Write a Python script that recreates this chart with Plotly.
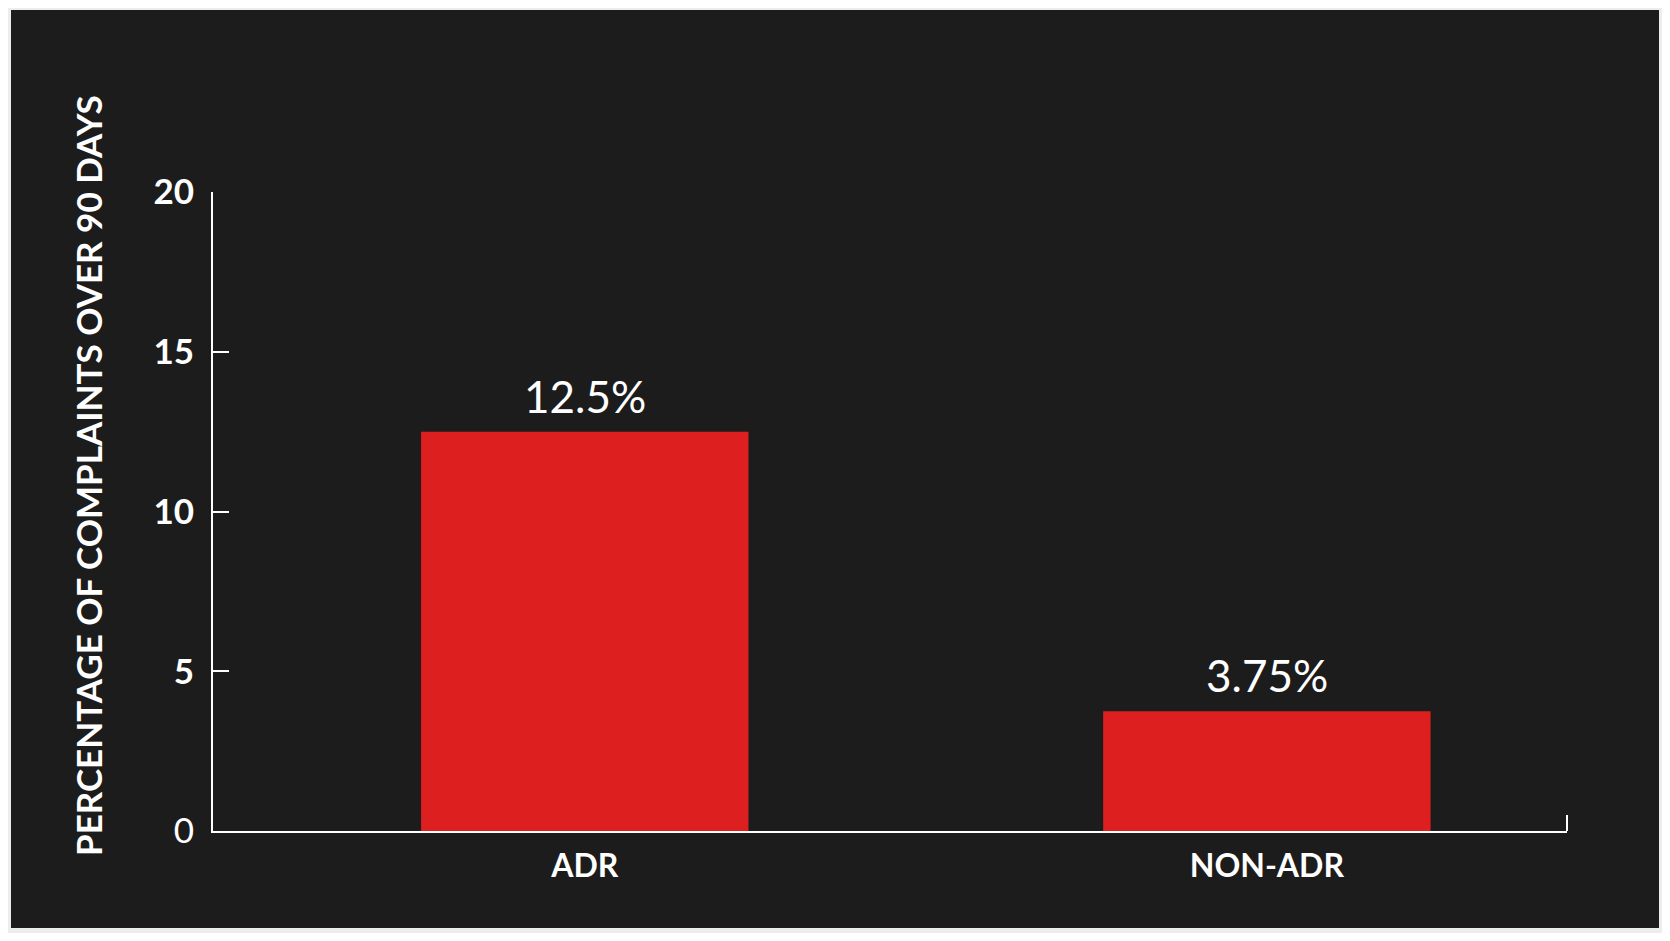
import plotly.graph_objects as go

# andmed
categories = ["ADR", "NON-ADR"]
values = [12.5, 3.75]
value_labels = ["12.5%", "3.75%"]
y_ticks = [0, 5, 10, 15, 20]
y_tick_labels = ["0", "<b>5</b>", "<b>10</b>", "<b>15</b>", "<b>20</b>"]
y_title = "PERCENTAGE OF COMPLAINTS OVER 90 DAYS"

# lehe body-l on 8px serv, seega joonis on veidi väiksem
W, H = 1654, 925
L, R, T, B = 205, 95, 184, 102
pw, ph = W - L - R, H - T - B


def px_x(v):
    return (v - L) / pw


def px_y(v):
    return (H - B - v) / ph


fig = go.Figure()
fig.add_trace(go.Bar(
    x=categories,
    y=values,
    width=0.48,
    marker_color="#dd1f20",
    marker_line_width=0,
    hoverinfo="skip",
))

# väärtuste sildid tulpade kohal
for c, v, lab in zip(categories, values, value_labels):
    fig.add_annotation(x=c, y=v, text=lab, showarrow=False, yanchor="bottom",
                       yshift=8, font=dict(size=44, color="white", family="Lato"))

# y-telje pealkiri
fig.add_annotation(xref="paper", yref="paper", x=px_x(57), y=px_y(468),
                   text=f"<b>{y_title}</b>", textangle=-90, showarrow=False,
                   font=dict(size=35, color="white", family="Lato"))

# tume taust ja x-telje otsa kriips
fig.add_shape(type="rect", xref="paper", yref="paper",
              x0=px_x(3), x1=px_x(1651), y0=px_y(920), y1=px_y(2),
              fillcolor="#1c1c1c", line_width=0, layer="below")
fig.add_shape(type="line", xref="paper", yref="paper",
              x0=1, x1=1, y0=0, y1=px_y(807),
              line=dict(color="white", width=2))

fig.update_layout(
    width=W, height=H,
    margin=dict(l=L, r=R, t=T, b=B, pad=0),
    paper_bgcolor="#ededed",
    plot_bgcolor="rgba(0,0,0,0)",
    font_family="Lato",
    showlegend=False,
    xaxis=dict(
        range=[-0.545, 1.44],
        showline=True, linecolor="white", linewidth=2,
        ticks="", showgrid=False, zeroline=False,
        tickfont=dict(size=32, color="white", family="Lato"),
        ticklabelstandoff=6,
        tickvals=categories,
        ticktext=[f"<b>{c}</b>" for c in categories],
    ),
    yaxis=dict(
        range=[0, 20],
        showline=True, linecolor="white", linewidth=2,
        ticks="inside", ticklen=16, tickwidth=2, tickcolor="white",
        tickvals=y_ticks, ticktext=y_tick_labels,
        showgrid=False, zeroline=False,
        tickfont=dict(size=35, color="white", family="Lato"),
        ticklabelstandoff=10,
    ),
)

fig.write_html("out.html")
